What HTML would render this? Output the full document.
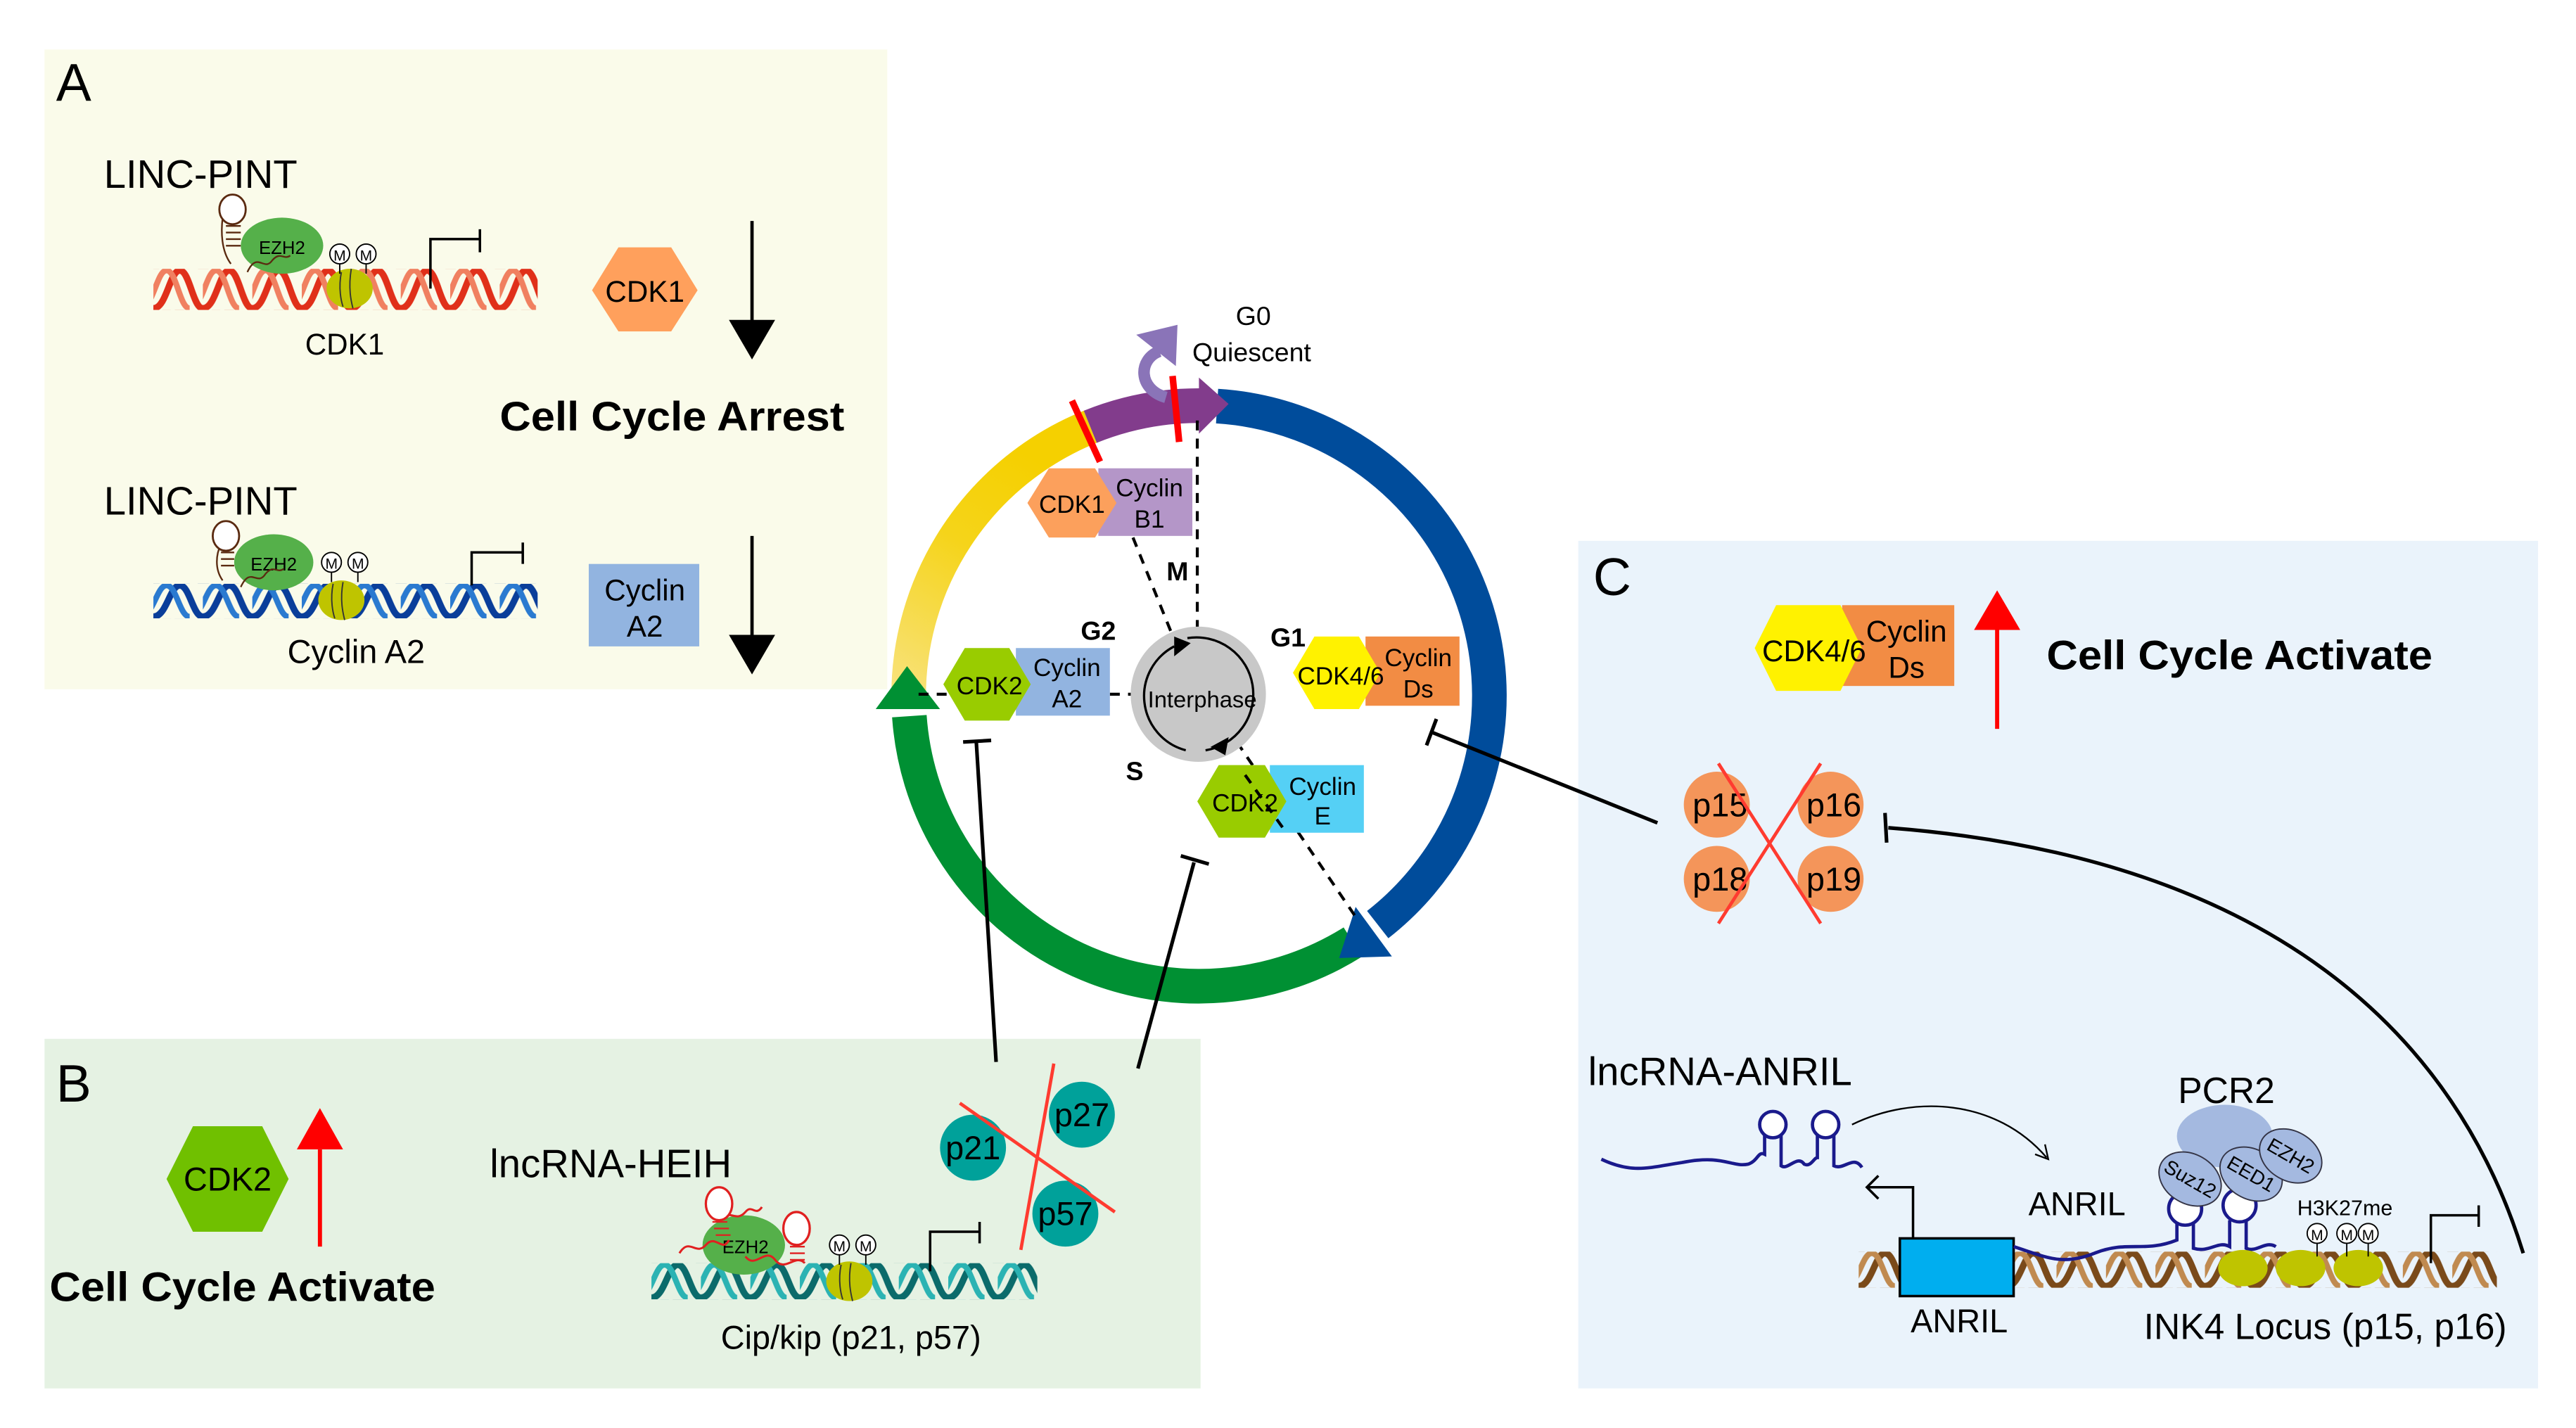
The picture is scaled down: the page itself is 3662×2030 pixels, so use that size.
<!DOCTYPE html>
<html><head><meta charset="utf-8"><style>
html,body{margin:0;padding:0;background:#fff;}
svg{display:block;}
text{font-family:"Liberation Sans",Arial,sans-serif;fill:#000;}
</style></head><body>
<svg width="3662" height="2030" viewBox="0 0 1562 866" preserveAspectRatio="none" xmlns="http://www.w3.org/2000/svg">
<defs>
<linearGradient id="yg" x1="0" y1="1" x2="0.4" y2="0">
<stop offset="0" stop-color="#f8e27c"/><stop offset="0.6" stop-color="#f5d41a"/><stop offset="1" stop-color="#f5d000"/>
</linearGradient>
<pattern id="dnaR" patternUnits="userSpaceOnUse" x="93" y="163" width="30" height="25">
<path d="M0,24 C8,24 10,1 16,1 C22,1 24,24 30,24" fill="none" stroke="#e0301a" stroke-width="4"/>
<path d="M-8,24 C0,24 2,1 8,1 C14,1 16,24 22,24" fill="none" stroke="#f08060" stroke-width="3.5"/>
</pattern>
<pattern id="dnaB" patternUnits="userSpaceOnUse" x="93" y="354" width="30" height="21">
<path d="M0,20 C8,20 10,1 16,1 C22,1 24,20 30,20" fill="none" stroke="#0a3e9a" stroke-width="4"/>
<path d="M-8,20 C0,20 2,1 8,1 C14,1 16,20 22,20" fill="none" stroke="#2a7ad0" stroke-width="3.5"/>
</pattern>
<pattern id="dnaT" patternUnits="userSpaceOnUse" x="395" y="766" width="30" height="22">
<path d="M0,21 C8,21 10,1 16,1 C22,1 24,21 30,21" fill="none" stroke="#0b6b6b" stroke-width="4"/>
<path d="M-8,21 C0,21 2,1 8,1 C14,1 16,21 22,21" fill="none" stroke="#2bb3b3" stroke-width="3.5"/>
</pattern>
<pattern id="dnaN" patternUnits="userSpaceOnUse" x="1127" y="759" width="30" height="22">
<path d="M0,21 C8,21 10,1 16,1 C22,1 24,21 30,21" fill="none" stroke="#7a4a1a" stroke-width="4"/>
<path d="M-8,21 C0,21 2,1 8,1 C14,1 16,21 22,21" fill="none" stroke="#c08a50" stroke-width="3.5"/>
</pattern>
</defs>

<!-- panels -->
<rect x="27" y="30" width="511" height="388" fill="#fafbea"/>
<rect x="27" y="630" width="701" height="212" fill="#e5f2e3"/>
<rect x="957" y="328" width="582" height="514" fill="#eaf3fb"/>

<!-- ===== Panel A ===== -->
<text x="34" y="61" font-size="32">A</text>
<text x="63" y="114" font-size="24">LINC-PINT</text>
<rect x="93" y="163" width="233" height="25" fill="url(#dnaR)"/>
<path d="M140,160 C134,152 134,140 135,132" stroke="#5a2a10" stroke-width="1" fill="none"/>
<ellipse cx="141" cy="127" rx="8" ry="9" fill="#fff" stroke="#5a2a10" stroke-width="1.2"/>
<g stroke="#5a2a10" stroke-width="1"><line x1="137" y1="137" x2="146" y2="137"/><line x1="137" y1="141" x2="146" y2="141"/><line x1="137" y1="145" x2="146" y2="145"/><line x1="137" y1="149" x2="146" y2="149"/></g>
<ellipse cx="171" cy="149" rx="25" ry="17" fill="#55b04a"/>
<text x="171" y="154" font-size="11" text-anchor="middle">EZH2</text>
<path d="M150,165 C156,152 160,165 165,158 C170,152 172,158 176,155" stroke="#5a2a10" stroke-width="1" fill="none"/>
<ellipse cx="212" cy="175" rx="14" ry="12" fill="#bfc400"/>
<path d="M207,165 C205,175 207,183 208,186 M213,163 C211,175 213,183 214,187" stroke="#333" stroke-width="0.8" fill="none"/>
<line x1="206" y1="160" x2="206" y2="166" stroke="#000" stroke-width="0.8"/><circle cx="206" cy="154" r="6" fill="#fff" stroke="#000" stroke-width="0.8"/><text x="206" y="158" font-size="9" text-anchor="middle">M</text>
<line x1="222" y1="160" x2="222" y2="166" stroke="#000" stroke-width="0.8"/><circle cx="222" cy="154" r="6" fill="#fff" stroke="#000" stroke-width="0.8"/><text x="222" y="158" font-size="9" text-anchor="middle">M</text>
<path d="M261,175 V145 H291 M291,139 V153" stroke="#000" stroke-width="1.5" fill="none"/>
<text x="209" y="215" font-size="18" text-anchor="middle">CDK1</text>
<polygon points="359,176 375,150 407,150 423,176 407,201 375,201" fill="#ffa05c"/>
<text x="391" y="183" font-size="18" text-anchor="middle">CDK1</text>
<line x1="456" y1="134" x2="456" y2="196" stroke="#000" stroke-width="2"/>
<polygon points="442,194 470,194 456,218" fill="#000"/>
<text x="303" y="261" font-size="25" font-weight="bold" textLength="209" lengthAdjust="spacingAndGlyphs">Cell Cycle Arrest</text>

<text x="63" y="312" font-size="24">LINC-PINT</text>
<rect x="93" y="354" width="233" height="21" fill="url(#dnaB)"/>
<path d="M135,352 C130,345 131,336 134,330" stroke="#5a2a10" stroke-width="1" fill="none"/>
<ellipse cx="137" cy="325" rx="8" ry="9" fill="#fff" stroke="#5a2a10" stroke-width="1.2"/>
<g stroke="#5a2a10" stroke-width="1"><line x1="134" y1="335" x2="142" y2="335"/><line x1="134" y1="339" x2="142" y2="339"/><line x1="134" y1="343" x2="142" y2="343"/></g>
<ellipse cx="166" cy="341" rx="24" ry="17" fill="#55b04a"/>
<text x="166" y="346" font-size="11" text-anchor="middle">EZH2</text>
<path d="M146,356 C152,343 156,356 161,348 C166,342 168,348 172,345" stroke="#5a2a10" stroke-width="1" fill="none"/>
<ellipse cx="207" cy="364" rx="14" ry="12" fill="#bfc400"/>
<path d="M202,354 C200,364 202,372 203,375 M208,353 C206,364 208,372 209,376" stroke="#333" stroke-width="0.8" fill="none"/>
<line x1="201" y1="347" x2="201" y2="353" stroke="#000" stroke-width="0.8"/><circle cx="201" cy="341" r="6" fill="#fff" stroke="#000" stroke-width="0.8"/><text x="201" y="345" font-size="9" text-anchor="middle">M</text>
<line x1="217" y1="347" x2="217" y2="353" stroke="#000" stroke-width="0.8"/><circle cx="217" cy="341" r="6" fill="#fff" stroke="#000" stroke-width="0.8"/><text x="217" y="345" font-size="9" text-anchor="middle">M</text>
<path d="M286,355 V335 H317 M317,329 V342" stroke="#000" stroke-width="1.5" fill="none"/>
<text x="216" y="402" font-size="20" text-anchor="middle">Cyclin A2</text>
<rect x="357" y="342" width="67" height="50" fill="#92b4e0"/>
<text x="391" y="364" font-size="18" text-anchor="middle">Cyclin</text>
<text x="391" y="386" font-size="18" text-anchor="middle">A2</text>
<line x1="456" y1="325" x2="456" y2="387" stroke="#000" stroke-width="2"/>
<polygon points="442,385 470,385 456,409" fill="#000"/>

<!-- ===== Cell cycle ring ===== -->
<path d="M551,425 A176,176 0 0 1 661.1,258.8" fill="none" stroke="url(#yg)" stroke-width="21"/>
<path d="M661.1,258.8 A176,176 0 0 1 729,246" fill="none" stroke="#823c8c" stroke-width="21"/>
<path d="M738,246.3 A176,176 0 0 1 835.4,560.7" fill="none" stroke="#004c9b" stroke-width="21"/>
<polygon points="727,229 727,263 745,245" fill="#823c8c"/>
<path d="M820.3,571.3 A176,176 0 0 1 551.4,434.3" fill="none" stroke="#009033" stroke-width="21"/>
<polygon points="822,550 844,580 812,581" fill="#004c9b"/>
<polygon points="550,404 531,430 570,430" fill="#009033"/>
<!-- G0 arrow -->
<path d="M707,241 C690,236 690,218 703,213" fill="none" stroke="#8a74b8" stroke-width="7"/>
<polygon points="689,203 714,197 713,222" fill="#8a74b8"/>
<text x="760" y="197" font-size="16" text-anchor="middle">G0</text>
<text x="759" y="219" font-size="16" text-anchor="middle">Quiescent</text>
<line x1="650" y1="243" x2="667" y2="280" stroke="#ff0000" stroke-width="4"/>
<line x1="711" y1="228" x2="715" y2="268" stroke="#ff0000" stroke-width="4"/>

<!-- dashed lines -->
<g stroke="#000" stroke-width="1.8" stroke-dasharray="6,5" fill="none">
<line x1="687" y1="326" x2="710" y2="383"/>
<line x1="726" y1="255" x2="726" y2="381"/>
<line x1="557" y1="421" x2="574" y2="421"/>
<line x1="673" y1="421" x2="686" y2="421"/>
<line x1="750" y1="450" x2="822" y2="556"/>
</g>

<!-- interphase -->
<circle cx="726.6" cy="421" r="41" fill="#c8c8c8"/>
<path d="M720,387 A34,34 0 0 1 731,455" fill="none" stroke="#000" stroke-width="1.4"/>
<path d="M719,455 A34,34 0 0 1 712,392" fill="none" stroke="#000" stroke-width="1.4"/>
<polygon points="712,386 722,390 712,398" fill="#000"/>
<polygon points="734,453 745,447 743,458" fill="#000"/>
<text x="729" y="429" font-size="14" text-anchor="middle">Interphase</text>

<text x="666" y="388" font-size="16" font-weight="bold" text-anchor="middle">G2</text>
<text x="781" y="392" font-size="16" font-weight="bold" text-anchor="middle">G1</text>
<text x="714" y="352" font-size="16" font-weight="bold" text-anchor="middle">M</text>
<text x="688" y="473" font-size="16" font-weight="bold" text-anchor="middle">S</text>

<!-- complexes -->
<rect x="666" y="284" width="57" height="41" fill="#b496c8"/>
<polygon points="623,305 636,284 664,284 677,305 664,326 636,326" fill="#fca05c"/>
<text x="650" y="311" font-size="15" text-anchor="middle">CDK1</text>
<text x="697" y="301" font-size="15" text-anchor="middle">Cyclin</text>
<text x="697" y="320" font-size="15" text-anchor="middle">B1</text>

<rect x="616" y="393" width="57" height="41" fill="#92b4e0"/>
<polygon points="572,415 585,393 612,393 625,415 612,437 585,437" fill="#99cc00"/>
<text x="600" y="421" font-size="15" text-anchor="middle">CDK2</text>
<text x="647" y="410" font-size="15" text-anchor="middle">Cyclin</text>
<text x="647" y="429" font-size="15" text-anchor="middle">A2</text>

<rect x="828" y="386" width="57" height="42" fill="#f28c44"/>
<polygon points="784,408 797,386 824,386 837,408 824,430 797,430" fill="#fff200"/>
<text x="813" y="415" font-size="15" text-anchor="middle">CDK4/6</text>
<text x="860" y="404" font-size="15" text-anchor="middle">Cyclin</text>
<text x="860" y="423" font-size="15" text-anchor="middle">Ds</text>

<rect x="770" y="464" width="57" height="41" fill="#55d0f5"/>
<polygon points="726,486 739,464 767,464 780,486 767,508 739,508" fill="#99cc00"/>
<text x="755" y="492" font-size="15" text-anchor="middle">CDK2</text>
<text x="802" y="482" font-size="15" text-anchor="middle">Cyclin</text>
<text x="802" y="500" font-size="15" text-anchor="middle">E</text>
<line x1="755" y1="470" x2="780" y2="505" stroke="#000" stroke-width="1.8" stroke-dasharray="6,5"/>

<!-- inhibition lines -->
<g stroke="#000" stroke-width="2.2" fill="none">
<line x1="592" y1="450" x2="604" y2="644"/>
<line x1="584" y1="450" x2="601" y2="449"/>
<line x1="724" y1="523" x2="690" y2="648"/>
<line x1="716" y1="519" x2="733" y2="524"/>
<line x1="868" y1="444" x2="1005" y2="499"/>
<line x1="871" y1="436" x2="865" y2="452"/>
<path d="M1530,760 C1490,630 1380,520 1145,502"/>
<line x1="1143" y1="493" x2="1144" y2="511"/>
</g>

<!-- ===== Panel B ===== -->
<text x="34" y="668" font-size="32">B</text>
<polygon points="101,715 117,683 159,683 175,715 159,747 117,747" fill="#70c000"/>
<text x="138" y="722" font-size="20" text-anchor="middle">CDK2</text>
<line x1="194" y1="697" x2="194" y2="756" stroke="#ff0000" stroke-width="2.5"/>
<polygon points="180,697 208,697 194,672" fill="#ff0000"/>
<text x="30" y="789" font-size="25" font-weight="bold" textLength="234" lengthAdjust="spacingAndGlyphs">Cell Cycle Activate</text>
<text x="297" y="714" font-size="24">lncRNA-HEIH</text>
<rect x="395" y="766" width="234" height="22" fill="url(#dnaT)"/>
<ellipse cx="451" cy="755" rx="25" ry="18" fill="#55b04a"/>
<text x="452" y="760" font-size="11" text-anchor="middle">EZH2</text>
<path d="M412,760 C418,750 422,762 428,755 C434,748 438,760 442,752 M436,740 C442,732 446,742 452,735 C456,730 458,738 462,732 M452,762 C458,770 464,756 470,764 C476,772 482,760 488,766" stroke="#e02020" stroke-width="1.3" fill="none"/>
<ellipse cx="436" cy="730" rx="8" ry="10" fill="#fff" stroke="#e02020" stroke-width="1.4"/>
<g stroke="#e02020" stroke-width="1"><line x1="432" y1="741" x2="441" y2="741"/><line x1="433" y1="745" x2="442" y2="745"/><line x1="434" y1="749" x2="443" y2="749"/></g>
<ellipse cx="483" cy="745" rx="8" ry="10" fill="#fff" stroke="#e02020" stroke-width="1.4"/>
<g stroke="#e02020" stroke-width="1"><line x1="479" y1="756" x2="488" y2="756"/><line x1="479" y1="760" x2="488" y2="760"/><line x1="479" y1="764" x2="488" y2="764"/></g>
<ellipse cx="515" cy="777" rx="14" ry="12" fill="#bfc400"/>
<path d="M510,767 C508,777 510,785 511,788 M516,766 C514,777 516,785 517,789" stroke="#333" stroke-width="0.8" fill="none"/>
<line x1="509" y1="761" x2="509" y2="767" stroke="#000" stroke-width="0.8"/><circle cx="509" cy="755" r="6" fill="#fff" stroke="#000" stroke-width="0.8"/><text x="509" y="759" font-size="9" text-anchor="middle">M</text>
<line x1="525" y1="761" x2="525" y2="767" stroke="#000" stroke-width="0.8"/><circle cx="525" cy="755" r="6" fill="#fff" stroke="#000" stroke-width="0.8"/><text x="525" y="759" font-size="9" text-anchor="middle">M</text>
<path d="M564,771 V747 H594 M594,741 V754" stroke="#000" stroke-width="1.5" fill="none"/>
<text x="516" y="818" font-size="20" text-anchor="middle">Cip/kip (p21, p57)</text>
<circle cx="590" cy="696" r="20" fill="#00a19a"/>
<circle cx="656" cy="676" r="20" fill="#00a19a"/>
<circle cx="646" cy="736" r="20" fill="#00a19a"/>
<text x="590" y="703" font-size="20" text-anchor="middle">p21</text>
<text x="656" y="683" font-size="20" text-anchor="middle">p27</text>
<text x="646" y="743" font-size="20" text-anchor="middle">p57</text>
<line x1="582" y1="669" x2="676" y2="735" stroke="#ff3b30" stroke-width="2"/>
<line x1="639" y1="645" x2="619" y2="758" stroke="#ff3b30" stroke-width="2"/>

<!-- ===== Panel C ===== -->
<text x="966" y="361" font-size="32">C</text>
<rect x="1117" y="367" width="68" height="49" fill="#f28c44"/>
<polygon points="1064,393 1077,367 1116,367 1129,393 1116,419 1077,419" fill="#fff200"/>
<text x="1100" y="401" font-size="18" text-anchor="middle">CDK4/6</text>
<text x="1156" y="389" font-size="18" text-anchor="middle">Cyclin</text>
<text x="1156" y="411" font-size="18" text-anchor="middle">Ds</text>
<line x1="1211" y1="380" x2="1211" y2="442" stroke="#ff0000" stroke-width="2.5"/>
<polygon points="1197,382 1225,382 1211,358" fill="#ff0000"/>
<text x="1241" y="406" font-size="25" font-weight="bold" textLength="234" lengthAdjust="spacingAndGlyphs">Cell Cycle Activate</text>
<g fill="#f4955a"><circle cx="1041" cy="488" r="20"/><circle cx="1110" cy="488" r="20"/><circle cx="1041" cy="533" r="20"/><circle cx="1110" cy="533" r="20"/></g>
<text x="1043" y="495" font-size="20" text-anchor="middle">p15</text>
<text x="1112" y="495" font-size="20" text-anchor="middle">p16</text>
<text x="1043" y="540" font-size="20" text-anchor="middle">p18</text>
<text x="1112" y="540" font-size="20" text-anchor="middle">p19</text>
<line x1="1042" y1="463" x2="1104" y2="560" stroke="#ff3b30" stroke-width="2"/>
<line x1="1104" y1="463" x2="1042" y2="560" stroke="#ff3b30" stroke-width="2"/>

<text x="963" y="658" font-size="24">lncRNA-ANRIL</text>
<path d="M971,703 C990,712 1000,708 1020,705 C1045,700 1050,708 1060,706 C1066,704 1066,698 1070,700 L1070,688 M1080,688 L1080,707 C1084,710 1090,700 1094,706 C1098,708 1100,702 1102,702 L1102,688 M1112,688 L1112,707 C1118,710 1124,700 1129,708" stroke="#1a1a8c" stroke-width="2" fill="none"/>
<circle cx="1075" cy="682" r="8" fill="#fff" stroke="#1a1a8c" stroke-width="2"/>
<circle cx="1107" cy="682" r="8" fill="#fff" stroke="#1a1a8c" stroke-width="2"/>
<path d="M1123,682 C1160,664 1210,666 1241,702" stroke="#000" stroke-width="1" fill="none"/>
<path d="M1234,700 L1242,703 L1240,694" stroke="#000" stroke-width="1" fill="none"/>
<path d="M1160,751 V720 H1132 M1139,713 L1132,720 L1139,727" stroke="#000" stroke-width="1.5" fill="none"/>
<rect x="1127" y="759" width="387" height="22" fill="url(#dnaN)"/>
<rect x="1152" y="751" width="69" height="35" fill="#00aeef" stroke="#000" stroke-width="1.5"/>
<path d="M1221,756 C1240,762 1250,768 1270,760 C1290,752 1300,760 1320,752 L1320,740 M1330,740 L1330,757 C1340,760 1345,752 1352,756 L1352,740 M1362,740 L1362,757 C1368,760 1374,752 1380,756" stroke="#1a1a8c" stroke-width="2" fill="none"/>
<text x="1188" y="808" font-size="20" text-anchor="middle">ANRIL</text>
<text x="1230" y="737" font-size="20">ANRIL</text>
<ellipse cx="1360" cy="769" rx="15" ry="11" fill="#bfc400"/>
<ellipse cx="1395" cy="769" rx="15" ry="11" fill="#bfc400"/>
<ellipse cx="1430" cy="769" rx="15" ry="11" fill="#bfc400"/>
<ellipse cx="1349" cy="689" rx="29" ry="19" fill="#a4b9e0"/>
<circle cx="1325" cy="733" r="10" fill="#fff" stroke="#1a1a8c" stroke-width="2"/>
<circle cx="1358" cy="731" r="10" fill="#fff" stroke="#1a1a8c" stroke-width="2"/>
<ellipse cx="1328" cy="715" rx="20" ry="15" fill="#a4b9e0" stroke="#334" stroke-width="0.8" transform="rotate(30 1328 715)"/>
<ellipse cx="1365" cy="712" rx="20" ry="15" fill="#a4b9e0" stroke="#334" stroke-width="0.8" transform="rotate(30 1365 712)"/>
<ellipse cx="1389" cy="701" rx="20" ry="15" fill="#a4b9e0" stroke="#334" stroke-width="0.8" transform="rotate(30 1389 701)"/>
<text x="1328" y="719" font-size="12" text-anchor="middle" transform="rotate(30 1328 715)">Suz12</text>
<text x="1365" y="716" font-size="12" text-anchor="middle" transform="rotate(30 1365 712)">EED1</text>
<text x="1389" y="705" font-size="12" text-anchor="middle" transform="rotate(30 1389 701)">EZH2</text>
<text x="1350" y="669" font-size="22" text-anchor="middle">PCR2</text>
<text x="1393" y="737" font-size="13">H3K27me</text>
<g stroke="#000" stroke-width="0.8"><line x1="1405" y1="754" x2="1405" y2="762"/><line x1="1423" y1="754" x2="1423" y2="762"/><line x1="1436" y1="754" x2="1436" y2="762"/></g>
<g fill="#fff" stroke="#000" stroke-width="0.8"><circle cx="1405" cy="748" r="6"/><circle cx="1423" cy="748" r="6"/><circle cx="1436" cy="748" r="6"/></g>
<text x="1405" y="752" font-size="9" text-anchor="middle">M</text><text x="1423" y="752" font-size="9" text-anchor="middle">M</text><text x="1436" y="752" font-size="9" text-anchor="middle">M</text>
<path d="M1474,766 V737 H1503 M1503,731 V744" stroke="#000" stroke-width="1.5" fill="none"/>
<text x="1410" y="812" font-size="22" text-anchor="middle">INK4 Locus (p15, p16)</text>
</svg>
</body></html>
